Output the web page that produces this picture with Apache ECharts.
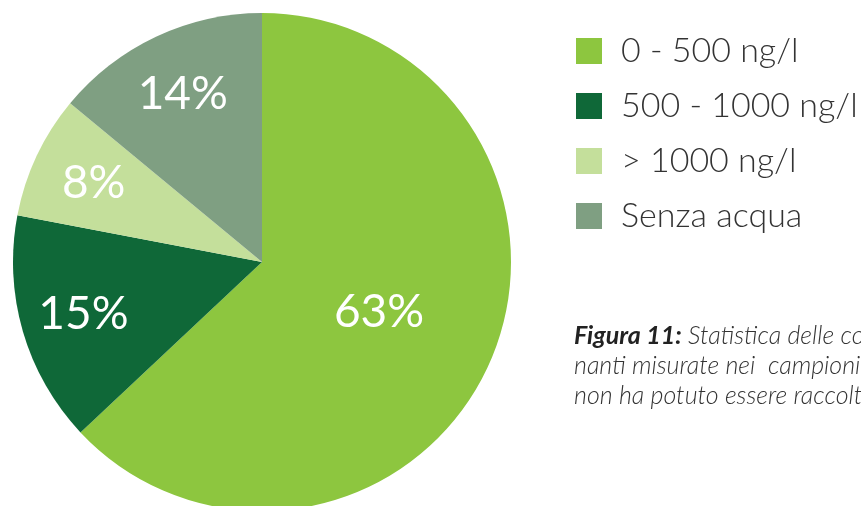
<!DOCTYPE html>
<html><head><meta charset="utf-8">
<script src="https://cdn.jsdelivr.net/npm/echarts@6/dist/echarts.min.js"></script>
<style>html,body{margin:0;padding:0;background:#fff}#c{width:861px;height:506px}</style>
</head><body><div id="c"></div>
<script>
const categories = ['0 - 500 ng/l', '500 - 1000 ng/l', '> 1000 ng/l', 'Senza acqua'];
const values = [63, 15, 8, 14];
const colors = ['#8dc63f', '#0f6838', '#c4df9b', '#7f9f82'];
const captionLines = ['Statistica delle concentrazioni', 'nanti misurate nei  campioni', 'non ha potuto essere raccolta'];

const chart = echarts.init(document.getElementById('c'));
const font = 'Lato, "Open Sans", sans-serif';
const center = [262, 262];
const labelStyle = { position: 'inside', formatter: '{c}%', color: '#fff', fontFamily: font, fontWeight: 400, fontSize: 46 };
chart.setOption({
  animation: false,
  color: colors,
  title: {
    left: 569, top: 316,
    text: '{b|Figura 11:} ' + captionLines[0] + '\n' + captionLines[1] + '\n' + captionLines[2],
    textStyle: {
      fontFamily: font, fontStyle: 'italic', fontWeight: 300, fontSize: 25, color: '#333', lineHeight: 30,
      rich: { b: { fontFamily: font, fontStyle: 'italic', fontWeight: 'bold', fontSize: 25, color: '#222', lineHeight: 30 } }
    }
  },
  legend: {
    orient: 'vertical', left: 571, top: 28,
    itemWidth: 26, itemHeight: 26, itemGap: 19,
    icon: 'rect',
    data: categories,
    textStyle: { fontFamily: font, fontSize: 34, fontWeight: 300, color: '#333', padding: [0, 0, 0, 14], lineHeight: 36 }
  },
  series: [{
    type: 'pie', center: center, radius: [0, 249], startAngle: 90, clockwise: true,
    silent: true,
    data: categories.map((n, i) => ({ name: n, value: values[i],
      label: { show: i === 0 } })),
    label: labelStyle,
    labelLine: { show: false },
    itemStyle: { borderWidth: 0 }
  }, {
    type: 'pie', center: center, radius: [0, 366], startAngle: 90, clockwise: true,
    silent: true, z: 3,
    data: categories.map((n, i) => ({ name: n, value: values[i],
      itemStyle: { color: 'rgba(0,0,0,0)' },
      label: { show: i !== 0 } })),
    label: labelStyle,
    labelLine: { show: false },
    emphasis: { disabled: true },
    legendHoverLink: false
  }]
});
</script></body></html>
